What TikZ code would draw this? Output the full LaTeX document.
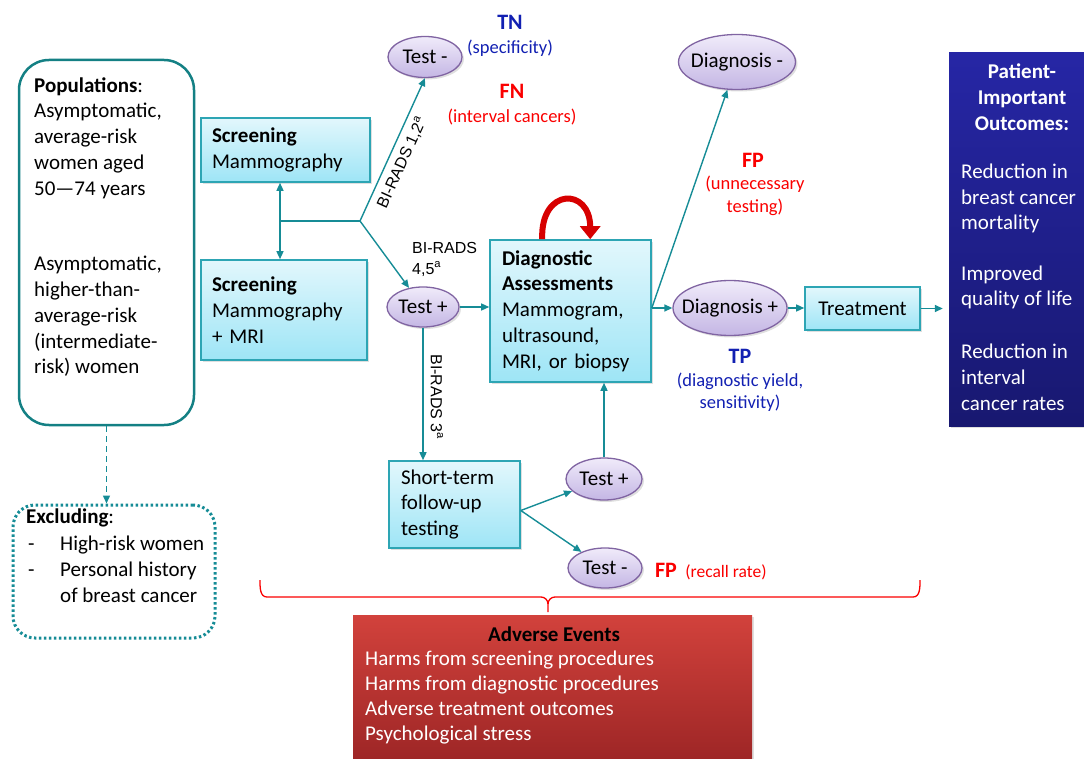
\documentclass[tikz,border=0pt]{standalone}
\usepackage{fontspec}
\setmainfont{Carlito}
\newfontfamily\arialfont{Liberation Sans}
\usetikzlibrary{positioning,arrows.meta,shapes.geometric,calc,shadows}

\definecolor{flowteal}{RGB}{22,140,150}
\definecolor{popteal}{RGB}{20,128,132}
\definecolor{boxline}{RGB}{45,165,180}
\definecolor{boxtop}{RGB}{226,247,252}
\definecolor{boxbot}{RGB}{158,229,246}
\definecolor{ovalline}{RGB}{128,100,162}
\definecolor{ovaltop}{RGB}{240,235,250}
\definecolor{ovalbot}{RGB}{196,182,228}
\definecolor{outtop}{RGB}{38,38,165}
\definecolor{outbot}{RGB}{24,24,112}
\definecolor{advtop}{RGB}{210,66,60}
\definecolor{advbot}{RGB}{158,38,38}
\definecolor{tpblue}{RGB}{18,32,178}
\definecolor{fpred}{RGB}{250,0,0}
\definecolor{loopred}{RGB}{215,0,0}

\newcommand{\ovaltxt}[1]{\makebox[0pt]{#1}}

\begin{document}
\begin{tikzpicture}[
  x=1pt, y=-1pt,
  every node/.style={inner sep=0pt},
  txt/.style={font=\fontsize{21}{25.8}\selectfont},
  note/.style={font=\fontsize{18.5}{22.5}\selectfont},
  tag/.style={font=\fontsize{22}{26}\selectfont\bfseries},
  soft/.style={drop shadow={opacity=0.25, shadow xshift=2pt, shadow yshift=-2pt}},
  flow/.style={draw=flowteal, line width=1.4pt, -{Triangle[length=8pt,width=7pt]}},
  stepbox/.style={txt, soft, draw=boxline, line width=1.6pt, top color=boxtop, bottom color=boxbot, align=left, inner xsep=11pt},
  oval/.style={txt, soft, ellipse, draw=ovalline, line width=1.3pt, top color=ovaltop, bottom color=ovalbot},
  birads/.style={font=\arialfont\fontsize{16}{21}\selectfont},
]
  \useasboundingbox (0,0) rectangle (1084,759);

  % --- populations ---
  \node[draw=popteal, line width=2.5pt, rounded corners=30pt, minimum width=175pt, minimum height=365pt] (pop) at (106.5,242.5) {};
  \node[txt, align=left, anchor=west] (popavg) at (34,138) {\textbf{Populations}:\\Asymptomatic,\\average-risk\\women aged\\50—74 years};
  \node[txt, align=left, anchor=west] (pophigh) at (34,316.5) {Asymptomatic,\\higher-than-\\average-risk\\(intermediate-\\risk) women};

  \node[draw=flowteal, line width=3pt, dash pattern=on 2.5pt off 2.5pt, rounded corners=22pt, minimum width=202pt, minimum height=133pt] (excl) at (114,571.5) {};
  \node[txt, anchor=west] (excltitle) at (26,518) {\textbf{Excluding}:};
  \node[txt, align=left, anchor=west] (excllist) at (28,569) {\makebox[32pt][l]{-}High-risk women\\\makebox[32pt][l]{-}Personal history\\\hspace*{32pt}of breast cancer};
  \draw[flow, dash pattern=on 6pt off 4pt] (pop.south) -- (pop.south |- excl.north);

  % --- screening ---
  \node[stepbox, text width=147pt, minimum height=64pt] (scrmam) at (285.5,150) {\textbf{Screening}\\Mammography};
  \node[stepbox, text width=144pt, minimum height=100pt] (scrmri) at (284,310) {\textbf{Screening}\\Mammography\\+ MRI};

  \coordinate (split) at (280,221);
  \coordinate (fork) at (360,221);
  \draw[flow, {Triangle[length=8pt,width=7pt]}-{Triangle[length=8pt,width=7pt]}] (scrmam.south -| split) -- (scrmri.north -| split);
  \draw[flow, -] (split) -- (fork);

  % --- test results ---
  \node[oval, minimum width=74pt, minimum height=41pt] (testneg) at (425,57) {\ovaltxt{Test -}};
  \node[oval, minimum width=72pt, minimum height=40pt] (testpos) at (423,307) {\ovaltxt{Test +}};
  \node[oval, minimum width=76pt, minimum height=42pt] (fuppos) at (604,479) {\ovaltxt{Test +}};
  \node[oval, minimum width=74pt, minimum height=40pt] (fupneg) at (605,568) {\ovaltxt{Test -}};
  \node[oval, minimum width=117pt, minimum height=55pt] (dxneg) at (737,62) {\ovaltxt{Diagnosis -}};
  \node[oval, minimum width=114pt, minimum height=55pt] (dxpos) at (730,308) {\ovaltxt{Diagnosis +}};

  \node[stepbox, inner xsep=12pt, text width=137pt, minimum height=142pt] (diag) at (570.5,311) {\textbf{Diagnostic}\\\textbf{Assessments}\\Mammogram,\\ultrasound,\\MRI, or biopsy};
  \node[stepbox, inner xsep=12pt, text width=107pt, minimum height=87pt] (fup) at (454.5,504.5) {Short-term\\follow-up\\testing};
  \node[stepbox, align=center, text width=93pt, minimum height=43pt] (treat) at (862.5,308.5) {Treatment};

  % --- outcomes ---
  \node[soft, top color=outtop, bottom color=outbot, minimum width=135pt, minimum height=373pt] (outc) at (1016.5,239.5) {};
  \node[txt, text=white, align=center] (outhead) at (1022,97) {\textbf{Patient-}\\\textbf{Important}\\\textbf{Outcomes:}};
  \node[txt, text=white, align=left, anchor=west] (outmort) at (961,198.5) {Reduction in\\breast cancer\\mortality};
  \node[txt, text=white, align=left, anchor=west] (outqol) at (961,287.5) {Improved\\quality of life};
  \node[txt, text=white, align=left, anchor=west] (outint) at (961,377) {Reduction in\\interval\\cancer rates};

  % --- adverse events ---
  \node[soft, top color=advtop, bottom color=advbot, minimum width=399pt, minimum height=144pt] (adv) at (552.5,687) {};
  \node[font=\fontsize{21}{25}\selectfont\bfseries] (advtitle) at (554,634) {Adverse Events};
  \node[font=\fontsize{21}{25}\selectfont, text=white, align=left, anchor=west] (advlist) at (365,697.5) {Harms from screening procedures\\Harms from diagnostic procedures\\Adverse treatment outcomes\\Psychological stress};

  % --- accuracy labels ---
  \node[tag, text=tpblue] (tn) at (510,22) {TN};
  \node[note, text=tpblue] (tnnote) at (510,48) {(specificity)};
  \node[tag, text=fpred] (fn) at (512,91) {FN};
  \node[note, text=fpred] (fnnote) at (512,117) {(interval cancers)};
  \node[tag, text=fpred] (fpdx) at (753,160) {FP};
  \node[note, text=fpred, align=center] (fpdxnote) at (755,196) {(unnecessary\\testing)};
  \node[tag, text=tpblue] (tp) at (740,356) {TP};
  \node[note, text=tpblue, align=center] (tpnote) at (740,392) {(diagnostic yield,\\sensitivity)};
  \node[tag, text=fpred] (fprecall) at (666,570) {FP};
  \node[font=\fontsize{17.5}{20}\selectfont, text=fpred] (fprecallnote) at (726,572) {(recall rate)};

  % --- connectors ---
  \draw[flow] (fork) -- node[birads, sloped, below=6pt, pos=0.45] (lbl12) {BI-RADS 1,2\textsuperscript{a}} (testneg.south);
  \draw[flow] (fork) -- (testpos);
  \node[birads, align=left, anchor=west] (lbl45) at (412,259) {BI-RADS\\4,5\textsuperscript{a}};
  \draw[flow] (testpos.east) -- (testpos.east -| diag.west);
  \draw[flow] (testpos.south) -- (testpos.south |- fup.north);
  \node[birads, rotate=-90] (lbl3) at (437,397) {BI-RADS 3\textsuperscript{a}};

  \coordinate (dxout) at (diag.east |- dxpos);
  \draw[flow] (dxout) -- (dxpos.west);
  \draw[flow] (dxout) -- (dxneg);
  \draw[flow] (dxpos.east) -- (dxpos.east -| treat.west);
  \draw[flow, shorten >=6pt] (treat.east) -- (treat.east -| outc.west);

  \coordinate (fupout) at ([yshift=-6]fup.east);
  \draw[flow] (fupout) -- (fuppos);
  \draw[flow] (fupout) -- (fupneg);
  \draw[flow] (fuppos.north) -- (fuppos.north |- diag.south);

  \draw[loopred, line width=6pt, -{Triangle[length=13pt,width=20pt]}] ([xshift=53]diag.north west) .. controls +(-2,-52) and +(0,-52) .. ([xshift=101]diag.north west);

  % brace over the harms
  \draw[fpred, line width=1.3pt] (260,580) to[out=-90,in=180] (267,597) -- (541,597) to[out=0,in=90] (548,604) -- (548,612);
  \draw[fpred, line width=1.3pt] (548,604) to[out=90,in=180] (555,597) -- (913,597) to[out=0,in=-90] (920,580);
\end{tikzpicture}
\end{document}
